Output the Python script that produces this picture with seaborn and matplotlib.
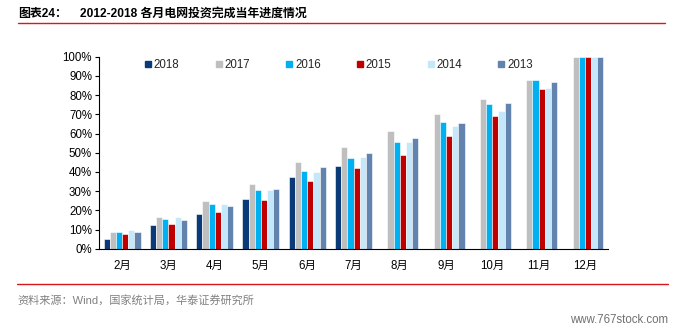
import numpy as np
import pandas as pd
import matplotlib
matplotlib.use("Agg")
import matplotlib.pyplot as plt
import seaborn as sns
from matplotlib.ticker import PercentFormatter, FixedLocator
from matplotlib.lines import Line2D

months = ["2月", "3月", "4月", "5月", "6月", "7月", "8月", "9月", "10月", "11月", "12月"]
years = ["2018", "2017", "2016", "2015", "2014", "2013"]
v2018 = [5.0, 12.2, 18.2, 25.9, 37.3, 42.9, np.nan, np.nan, np.nan, np.nan, np.nan]
v2017 = [8.7, 16.3, 24.8, 33.9, 45.1, 53.0, 61.3, 70.1, 77.8, 87.8, 100.0]
v2016 = [8.5, 15.5, 23.3, 30.4, 40.3, 47.2, 55.6, 65.8, 75.5, 87.8, 100.0]
v2015 = [7.5, 13.0, 18.9, 25.5, 35.4, 42.0, 48.8, 58.5, 68.9, 83.2, 100.0]
v2014 = [9.9, 16.3, 23.3, 30.6, 40.1, 47.6, 55.7, 63.9, 71.7, 83.9, 100.0]
v2013 = [8.7, 15.1, 22.4, 31.1, 42.7, 50.0, 57.5, 65.5, 75.9, 86.8, 100.0]
yticks = [0, 10, 20, 30, 40, 50, 60, 70, 80, 90, 100]

colors = ["#0B3A78", "#BFBFBF", "#00B0F0", "#C00000", "#C4E8FA", "#6283AD"]

series = [v2018, v2017, v2016, v2015, v2014, v2013]
rows = []
for y, vals in zip(years, series):
    for m, v in zip(months, vals):
        rows.append({"month": m, "year": y, "value": v})
df = pd.DataFrame(rows)

sns.set_theme(style="white")
plt.rcParams["font.family"] = ["Liberation Sans", "Noto Sans CJK SC"]

fig = plt.figure(figsize=(6.76, 3.31), dpi=100)
ax = fig.add_axes([99 / 676, 1 - 248.7 / 331, (608 - 99) / 676, (248.7 - 56.7) / 331])

sns.barplot(data=df, x="month", y="value", hue="year", order=months, hue_order=years,
            palette=colors, width=0.8, ax=ax, edgecolor="white", linewidth=0.4,
            saturation=1, legend=False, errorbar=None)

ax.set_ylim(0, 100)
ax.set_xlim(-0.5, len(months) - 0.5)
ax.set_xlabel("")
ax.set_ylabel("")
ax.yaxis.set_major_locator(FixedLocator(yticks))
ax.yaxis.set_major_formatter(PercentFormatter(decimals=0))

# category ticks at boundaries, labels at centers
ax.set_xticks(np.arange(len(months)))
ax.set_xticklabels(months)
ax.tick_params(axis="x", which="major", length=0, labelsize=8.3, pad=8, colors="black")
ax.set_xticks(np.arange(-0.5, len(months)), minor=True)
ax.tick_params(axis="x", which="minor", length=4, width=0.8, color="black", direction="out")
ax.tick_params(axis="y", which="major", length=3, width=0.8, color="black", labelsize=8.3,
               direction="out", pad=2, colors="black", left=True)
for lab in ax.get_yticklabels():
    lab.set_color("black")

for s in ["top", "right"]:
    ax.spines[s].set_visible(False)
for s in ["left", "bottom"]:
    ax.spines[s].set_color("black")
    ax.spines[s].set_linewidth(0.8)

# legend
handles = [Line2D([0], [0], marker="s", linestyle="", markersize=4.5,
                  markerfacecolor=c, markeredgecolor=c) for c in colors]
leg = fig.legend(handles, years, loc="center left", ncol=6,
                 bbox_to_anchor=(144 / 676, 1 - 65 / 331), frameon=False,
                 fontsize=8.3, handlelength=0.7, handletextpad=0.15,
                 columnspacing=3.05, borderpad=0, borderaxespad=0)

# title and decorations
fig.text(18 / 676, 1 - 13.5 / 331, "图表24：", fontsize=8.6, fontweight="bold",
         va="center", ha="left", color="black")
fig.text(80 / 676, 1 - 13.5 / 331, "2012-2018 各月电网投资完成当年进度情况", fontsize=8.6,
         fontweight="bold", va="center", ha="left", color="black")
fig.add_artist(Line2D([18 / 676, 665 / 676], [1 - 23.3 / 331, 1 - 23.3 / 331],
                      color="#D7191C", linewidth=1.0, transform=fig.transFigure))
fig.add_artist(Line2D([17 / 676, 668 / 676], [1 - 284 / 331, 1 - 284 / 331],
                      color="#D7191C", linewidth=1.0, transform=fig.transFigure))
fig.text(17 / 676, 1 - 300.5 / 331, "资料来源：Wind，国家统计局，华泰证券研究所", fontsize=8.0,
         va="center", ha="left", color="#808080")
fig.text(668 / 676, 1 - 320 / 331, "www.767stock.com", fontsize=8.3,
         va="center", ha="right", color="#707070")

fig.savefig("out.png", dpi=100)
